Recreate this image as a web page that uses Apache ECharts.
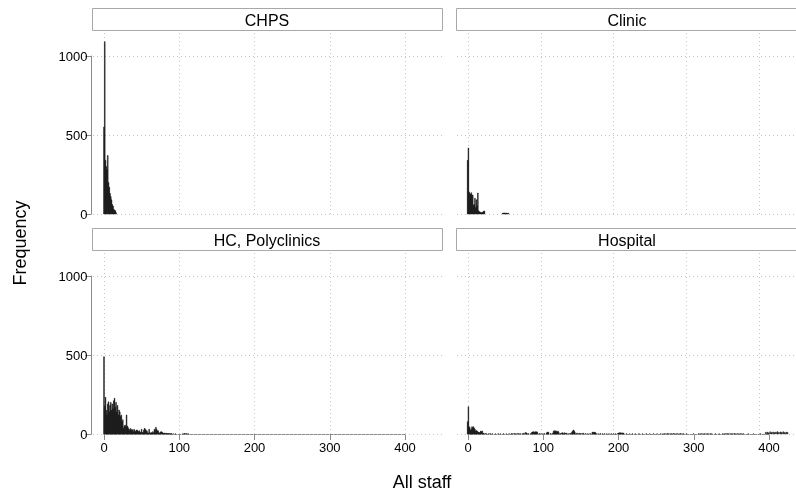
<!DOCTYPE html>
<html><head><meta charset="utf-8">
<script src="https://cdn.jsdelivr.net/npm/echarts@6/dist/echarts.min.js"></script>
<style>html,body{margin:0;padding:0;background:#fff}#c{width:796px;height:497px;will-change:transform}</style>
</head><body><div id="c"></div>
<script>
// ---------- data ----------
const panelNames = ['CHPS', 'Clinic', 'HC, Polyclinics', 'Hospital'];
const xTicks = [0, 100, 200, 300, 400];
const yTicks = [0, 500, 1000];
const xTitle = 'All staff';
const yTitle = 'Frequency';

const chpsValue = [0,1,2,3,4,5,6,7,8,9,10,11,12,13,14,15,16];
const chpsFreq  = [550,1090,340,300,280,370,200,170,130,110,90,60,50,30,25,20,8];

const clinicValue = [0,1,2,3,4,5,6,7,8,9,10,11,12,13,14,15,16,17,18,19,20,21,22,23,48,49,50,51,52,53,54,55,56];
const clinicFreq  = [340,418,140,130,125,135,120,120,55,60,100,40,90,50,133,20,15,12,10,8,10,12,18,19,5,6,4,7,5,6,3,4,5];

const hcValue = [
  0,1,2,3,4,5,6,7,8,9,
  10,11,12,13,14,15,16,17,18,19,
  20,21,22,23,24,25,26,27,28,29,
  30,31,32,33,34,35,36,37,38,39,
  40,41,42,43,44,45,46,47,48,49,
  50,51,52,53,54,55,56,57,58,59,
  60,61,62,63,64,65,66,67,68,69,
  70,71,72,73,74,75,76,77,78,79,
  80,81,82,83,84,85,86,87,88,89,
  90,92,95,105,107,108,110,112];
const hcFreq = [
  489,175,232,150,120,190,204,140,180,200,
  150,190,160,210,226,170,200,140,180,120,
  152,140,110,120,78,90,38,50,57,45,
  120,50,40,30,25,35,20,30,25,15,
  30,20,15,25,25,20,15,20,8,12,
  30,10,8,25,36,30,20,20,8,6,
  30,8,5,10,6,15,8,30,20,42,
  30,20,20,8,5,12,15,12,8,3,
  5,6,3,4,2,3,2,3,1,2,
  1,1,1,2,3,2,3,1];

const hospitalValue = [
  0,1,2,3,4,5,6,7,8,9,
  10,11,12,13,14,15,16,17,18,19,
  20,21,22,24,26,29,31,34,38,42,
  45,49,53,57,60,62,64,66,68,70,
  72,75,77,79,80,81,83,86,88,89,
  90,91,92,93,94,95,96,99,102,105,
  108,109,110,111,114,117,118,119,120,121,
  122,123,124,125,127,129,130,131,133,134,
  136,139,141,143,144,145,146,147,149,151,
  153,155,157,159,162,165,168,171,172,173,
  174,175,176,179,182,185,188,191,194,197,
  200,203,206,207,208,209,210,211,212,213,
  214,218,222,226,230,235,240,245,250,255,
  260,265,268,270,272,274,276,278,280,282,
  284,286,288,290,292,294,296,300,310,317,
  319,321,323,325,327,329,331,333,335,340,
  345,350,352,354,356,358,360,362,364,366,
  368,370,372,374,376,378,385,392,402,409,
  411,413,415,417,419,421,423,425,427,429,
  431,433,435,437,439];
const hospitalFreq = [
  78,173,46,40,23,30,46,40,46,37,
  30,19,22,19,11,12,8,10,19,15,
  19,6,4,3,2,2,3,2,1,2,
  1,2,1,2,3,2,3,2,3,2,
  3,2,4,8,8,6,3,2,10,12,
  15,13,10,15,12,14,8,3,2,4,
  3,11,12,10,4,6,18,21,15,20,
  16,12,19,10,3,6,8,5,8,4,
  6,3,5,10,18,25,20,12,5,4,
  5,3,4,5,3,2,3,10,12,8,
  12,9,6,2,3,2,2,1,2,1,
  2,1,3,5,8,6,8,5,7,4,
  6,2,1,2,1,2,1,2,1,2,
  1,2,1,2,1,3,2,1,2,3,
  1,2,2,1,3,1,2,1,1,2,
  1,2,1,2,1,2,1,2,1,1,
  1,2,1,2,3,1,2,1,2,3,
  1,2,1,2,1,2,1,1,1,10,
  12,8,14,10,13,9,12,15,10,13,
  11,14,9,12,10];

const panelValues = [chpsValue, clinicValue, hcValue, hospitalValue];
const panelFreqs  = [chpsFreq, clinicFreq, hcFreq, hospitalFreq];

// ---------- layout ----------
const FONT = "'Liberation Sans', Arial, Helvetica, sans-serif";
const colLeft = [93, 457];      // panel left edge
const panelW = 350;
const rowTop = [31, 251];       // panel top (below strip)
const zeroX = [104, 468];       // pixel of x = 0
const zeroY = [214, 434];       // pixel of y = 0
const xSpan = 301;              // px for 0..400
const ySpan = 158;              // px for 0..1000
const xUnit = xSpan / 400, yUnit = ySpan / 1000;
const yAxisX = 91.5;

const grids = [], xAxes = [], yAxes = [], series = [];
const gridColor = '#c4c4c4';
const axisColor = '#8a8a8a';

function vGrid(params, api) {
  const cs = params.coordSys;
  const p = api.coord([api.value(0), 0]);
  const x = Math.round(p[0]) + 0.5;
  return {type: 'line', shape: {x1: x, y1: cs.y + 2, x2: x, y2: cs.y + cs.height},
    style: {stroke: gridColor, lineWidth: 1, lineDash: [1, 3]}};
}
function hGrid(params, api) {
  const cs = params.coordSys;
  const p = api.coord([0, api.value(1)]);
  const y = Math.round(p[1]) + 0.5;
  return {type: 'line', shape: {x1: cs.x, y1: y, x2: cs.x + cs.width, y2: y},
    style: {stroke: gridColor, lineWidth: 1, lineDash: [1, 3]}};
}
function barItem(params, api) {
  const v = api.value(0), f = api.value(1);
  const a = api.coord([v - 0.5, f]);
  const b = api.coord([v + 0.5, 0]);
  return {type: 'rect', shape: {x: a[0], y: a[1], width: b[0] - a[0], height: b[1] - a[1]},
    style: {fill: '#000', stroke: '#1e1e1e', lineWidth: 0.5}};
}

for (let i = 0; i < 4; i++) {
  const c = i % 2, r = Math.floor(i / 2);
  const left = colLeft[c], top = rowTop[r];
  const h = zeroY[r] - top;
  grids.push({left: left, top: top, width: panelW, height: h});
  xAxes.push({type: 'value', gridIndex: i, show: false,
    min: (left - zeroX[c]) / xUnit, max: (left + panelW - zeroX[c]) / xUnit});
  yAxes.push({type: 'value', gridIndex: i, show: false, min: 0, max: h / yUnit});
  series.push({type: 'custom', xAxisIndex: i, yAxisIndex: i, z: 1, silent: true,
    renderItem: vGrid, data: xTicks.map(v => [v, 0])});
  series.push({type: 'custom', xAxisIndex: i, yAxisIndex: i, z: 1, silent: true,
    renderItem: hGrid, data: yTicks.map(v => [0, v])});
  series.push({type: 'custom', name: panelNames[i], xAxisIndex: i, yAxisIndex: i, z: 2, silent: true,
    renderItem: barItem, data: panelValues[i].map((v, k) => [v, panelFreqs[i][k]])});
}

const axLine = {show: true, onZero: false, lineStyle: {color: axisColor, width: 1}};
const axTick = {show: true, length: 6, lineStyle: {color: axisColor, width: 1}};
const axLabel = {show: true, color: '#000', fontSize: 13, fontFamily: FONT, formatter: v => String(v)};

// axis grid: top-left y axis
grids.push({left: yAxisX, top: zeroY[0] - ySpan, width: xSpan, height: ySpan});
xAxes.push({type: 'value', gridIndex: 4, show: false, min: 0, max: 400});
yAxes.push({type: 'value', gridIndex: 4, min: 0, max: 1000, interval: 500,
  axisLine: axLine, axisTick: axTick, axisLabel: Object.assign({}, axLabel, {margin: 4}), splitLine: {show: false}});
// axis grid: bottom-left x + y axes
grids.push({left: zeroX[0], top: zeroY[1] - ySpan, width: xSpan, height: ySpan});
xAxes.push({type: 'value', gridIndex: 5, min: 0, max: 400, interval: 100,
  axisLine: axLine, axisTick: axTick, axisLabel: Object.assign({}, axLabel, {margin: 7}), splitLine: {show: false}});
yAxes.push({type: 'value', gridIndex: 5, min: 0, max: 1000, interval: 500, offset: zeroX[0] - yAxisX,
  axisLine: axLine, axisTick: axTick, axisLabel: Object.assign({}, axLabel, {margin: 4}), splitLine: {show: false}});
// axis grid: bottom-right x axis
grids.push({left: zeroX[1], top: zeroY[1] - ySpan, width: xSpan, height: ySpan});
xAxes.push({type: 'value', gridIndex: 6, min: 0, max: 400, interval: 100,
  axisLine: axLine, axisTick: axTick, axisLabel: Object.assign({}, axLabel, {margin: 7}), splitLine: {show: false}});
yAxes.push({type: 'value', gridIndex: 6, show: false, min: 0, max: 1000});

// strips and titles
const graphics = [];
const stripTop = [8, 228];
for (let i = 0; i < 4; i++) {
  const c = i % 2, r = Math.floor(i / 2);
  graphics.push({type: 'rect', silent: true, z: 10,
    shape: {x: colLeft[c] - 0.5, y: stripTop[r] + 0.5, width: panelW, height: 22},
    style: {fill: '#fff', stroke: '#a8a8a8', lineWidth: 1}});
  graphics.push({type: 'text', silent: true, z: 11,
    x: colLeft[c] + panelW / 2 - 1 - (c === 1 ? 4 : 0), y: stripTop[r] + 12,
    style: {text: panelNames[i], font: '16px ' + FONT, fill: '#000', textAlign: 'center', textVerticalAlign: 'middle'}});
}
graphics.push({type: 'text', silent: true, x: 20, y: 243, rotation: Math.PI / 2,
  style: {text: yTitle, font: '18px ' + FONT, fill: '#000', textAlign: 'center', textVerticalAlign: 'middle'}});
graphics.push({type: 'text', silent: true, x: 422, y: 482,
  style: {text: xTitle, font: '18px ' + FONT, fill: '#000', textAlign: 'center', textVerticalAlign: 'middle'}});

const chart = echarts.init(document.getElementById('c'), null, {renderer: 'svg'});
chart.setOption({
  animation: false,
  backgroundColor: '#fff',
  grid: grids, xAxis: xAxes, yAxis: yAxes, series: series, graphic: graphics
});
</script></body></html>
